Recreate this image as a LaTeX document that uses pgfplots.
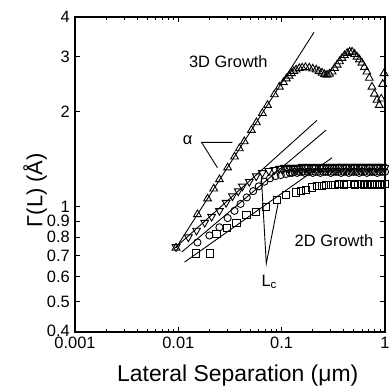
\documentclass[border=0pt]{standalone}
\usepackage{fontspec}
\setmainfont{Liberation Sans}
\usepackage{pgfplots}
\pgfplotsset{compat=1.18}
\begin{document}
\begin{tikzpicture}
\begin{axis}[
  name=ax,
  xmode=log, ymode=log,
  scale only axis, width=310bp, height=315bp,
  xmin=0.001, xmax=1, ymin=0.4, ymax=4,
  xtick={0.001,0.01,0.1,1}, xticklabels={0.001,0.01,0.1,1},
  ytick={0.4,0.5,0.6,0.7,0.8,0.9,1,2,3,4},
  yticklabels={\raisebox{3bp}{0.4},0.5,0.6,0.7,0.8,0.9,\raisebox{0.5bp}{1},2,3,4},
  /pgf/number format/assume math mode=true,
  tick align=inside, tick pos=both,
  major tick length=5bp, minor tick length=3bp,
  every tick/.style={black, line width=1bp},
  axis line style={line width=1.8bp},
  tick label style={font=\fontsize{16.5}{18}\selectfont, inner sep=2.5bp},
  xticklabel style={yshift=-2.5bp},
  yticklabel style={xshift=-2.5bp},
  xlabel={Lateral Separation (μm)},
  ylabel={Γ(L) (Å)},
  xlabel style={font=\fontsize{23}{26}\selectfont, at={(axis description cs:0.525,0)}, anchor=center, yshift=-44bp},
  ylabel style={font=\fontsize{22}{25}\selectfont, at={(axis description cs:-0.129,0.45)}, anchor=center},
  clip=true,
]
% fit lines
\addplot[black, line width=0.9bp, no marks] coordinates {(0.0095,0.74) (0.206,3.58)};
\addplot[black, line width=0.9bp, no marks] coordinates {(0.0093,0.74) (0.22,1.88)};
\addplot[black, line width=0.9bp, no marks] coordinates {(0.0108,0.718) (0.269,1.75)};
\addplot[black, line width=0.9bp, no marks] coordinates {(0.0115,0.667) (0.308,1.43)};
% alpha indicator
\addplot[black, line width=0.9bp, no marks] coordinates {(0.0334,1.60) (0.0168,1.60) (0.0239,1.33)};
% L_c indicator
\addplot[black, line width=0.9bp, no marks] coordinates {(0.0636,1.24) (0.071,0.66) (0.0928,1.03)};
% 3D growth (triangles up)
\addplot[black, only marks, mark=triangle, mark size=4.5pt, mark options={line width=0.9bp}] coordinates {
(0.0095,0.74) (0.0153,0.945) (0.0192,1.06) (0.022,1.14) (0.025,1.22) (0.030,1.33)
(0.035,1.44) (0.039,1.53) (0.0435,1.61) (0.051,1.75) (0.057,1.85) (0.065,1.98)
(0.073,2.10) (0.085,2.27) (0.095,2.40) (0.104,2.48) (0.111,2.55) (0.118,2.60)
(0.124,2.65) (0.131,2.69) (0.138,2.72) (0.148,2.75) (0.158,2.76) (0.170,2.77)
(0.185,2.76) (0.200,2.74) (0.216,2.72) (0.230,2.69) (0.246,2.66) (0.260,2.63)
(0.275,2.62) (0.290,2.64) (0.308,2.68) (0.325,2.75) (0.344,2.82) (0.363,2.89)
(0.384,2.96) (0.405,3.02) (0.430,3.07) (0.455,3.10) (0.480,3.10) (0.508,3.05)
(0.536,2.99) (0.566,2.93) (0.598,2.86) (0.632,2.77) (0.668,2.68) (0.705,2.56)
(0.748,2.40) (0.790,2.28) (0.836,2.18) (0.880,2.10) (0.920,2.20) (0.950,2.45)
(0.980,2.65) (1.01,2.85)
};
% triangles down
\addplot[black, only marks, mark=triangle, mark size=4.5pt, mark options={rotate=180, line width=0.9bp}] coordinates {
(0.0095,0.745) (0.0125,0.80) (0.015,0.84) (0.018,0.89) (0.021,0.93) (0.025,0.97)
(0.029,1.03) (0.0334,1.08) (0.038,1.12) (0.0417,1.16) (0.0486,1.20) (0.0567,1.25)
(0.065,1.28) (0.075,1.30) (0.085,1.31) (0.095,1.32) (0.100,1.32) (0.106,1.33)
(0.112,1.32) (0.119,1.33) (0.126,1.33) (0.133,1.32) (0.141,1.33) (0.149,1.33)
(0.158,1.34) (0.168,1.33) (0.178,1.33) (0.188,1.34) (0.200,1.33) (0.211,1.33)
(0.224,1.34) (0.237,1.33) (0.251,1.33) (0.266,1.34) (0.282,1.33) (0.299,1.34)
(0.316,1.33) (0.335,1.34) (0.355,1.33) (0.376,1.34) (0.398,1.34) (0.422,1.33)
(0.447,1.34) (0.473,1.34) (0.501,1.33) (0.531,1.34) (0.562,1.34) (0.596,1.33)
(0.631,1.34) (0.668,1.34) (0.708,1.33) (0.750,1.34) (0.794,1.34) (0.841,1.33)
(0.891,1.34) (0.944,1.34) (1.0,1.33)
};
% circles
\addplot[black, only marks, mark=o, mark size=3.6pt, mark options={line width=0.9bp}] coordinates {
(0.0153,0.77) (0.020,0.81) (0.025,0.86) (0.030,0.92) (0.035,0.97) (0.040,1.02)
(0.046,1.07) (0.053,1.12) (0.060,1.16) (0.068,1.20) (0.077,1.23) (0.087,1.25)
(0.098,1.26) (0.110,1.27) (0.120,1.28) (0.126,1.28) (0.133,1.29) (0.141,1.28)
(0.149,1.29) (0.158,1.29) (0.168,1.28) (0.178,1.29) (0.188,1.29) (0.200,1.28)
(0.211,1.29) (0.224,1.29) (0.237,1.28) (0.251,1.29) (0.266,1.29) (0.282,1.29)
(0.299,1.28) (0.316,1.29) (0.335,1.29) (0.355,1.29) (0.376,1.28) (0.398,1.29)
(0.422,1.29) (0.447,1.28) (0.473,1.29) (0.501,1.29) (0.531,1.29) (0.562,1.28)
(0.596,1.29) (0.631,1.29) (0.668,1.28) (0.708,1.29) (0.750,1.29) (0.794,1.29)
(0.841,1.28) (0.891,1.29) (0.944,1.29) (1.0,1.29)
};
% squares
\addplot[black, only marks, mark=square, mark size=3.6pt, mark options={line width=0.9bp}] coordinates {
(0.0149,0.71) (0.0204,0.71) (0.0234,0.82) (0.0293,0.855) (0.0365,0.89) (0.0456,0.94)
(0.0569,0.96) (0.071,1.00) (0.0907,1.05) (0.111,1.09) (0.138,1.11) (0.155,1.12)
(0.173,1.13) (0.198,1.15) (0.220,1.16) (0.245,1.16) (0.270,1.17) (0.300,1.17)
(0.330,1.17) (0.360,1.18) (0.400,1.17) (0.430,1.18) (0.470,1.18) (0.510,1.17)
(0.550,1.18) (0.590,1.18) (0.630,1.17) (0.670,1.18) (0.710,1.18) (0.750,1.17)
(0.800,1.18) (0.840,1.18) (0.890,1.17) (0.940,1.18) (1.0,1.18)
};
\node[font=\fontsize{16.5}{18}\selectfont] at (axis cs:0.0305,2.88) {3D Growth};
\node[font=\fontsize{16.5}{18}\selectfont] at (axis cs:0.321,0.78) {2D Growth};
\node[font=\fontsize{16.5}{18}\selectfont] at (axis cs:0.0123,1.62) {α};
\node[font=\fontsize{16.5}{18}\selectfont] at (axis cs:0.0759,0.577) {L\textsubscript{c}};
\end{axis}
\pgfresetboundingbox
\path[use as bounding box] ([xshift=-75bp,yshift=-59bp]ax.south west) rectangle ([xshift=4bp,yshift=17bp]ax.north east);
\end{tikzpicture}
\end{document}
